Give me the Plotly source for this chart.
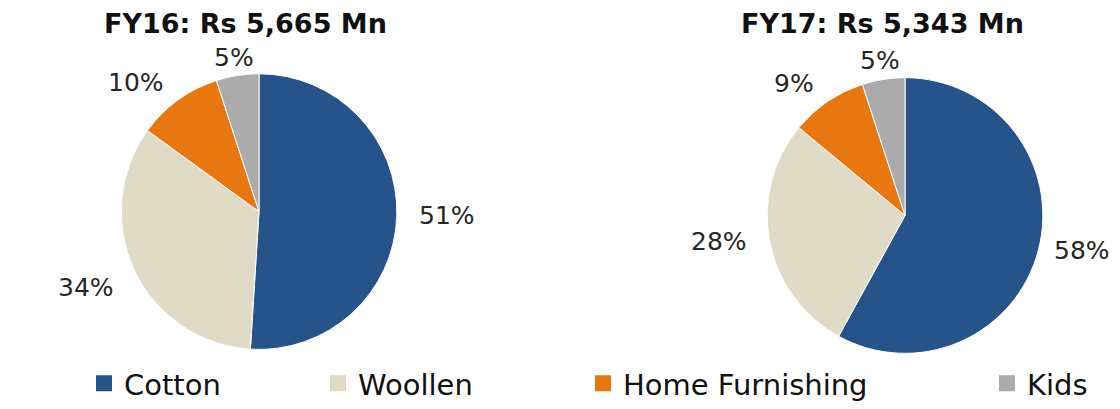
import math
import plotly.graph_objects as go

categories = ["Cotton", "Woollen", "Home Furnishing", "Kids"]
fy16_share = [51, 34, 10, 5]
fy17_share = [58, 28, 9, 5]
titles = ["FY16: Rs 5,665 Mn", "FY17: Rs 5,343 Mn"]
colors = ["#26548A", "#DFDBC6", "#E8770F", "#ABABAB"]

W, H = 1120, 409
FONT = "DejaVu Sans"
LABEL_SIZE = 25

# pie geometry (pixels): centre x, centre y, diameter
pies = [
    dict(values=fy16_share, name="FY16", cx=259, cy=218, d=284, title_x=245),
    dict(values=fy17_share, name="FY17", cx=905, cy=222, d=284, title_x=882),
]
legend_x = [84, 318, 583, 987]  # left edge of each legend entry (px)

fig = go.Figure()
for i, p in enumerate(pies):
    half = p["d"] / 2
    fig.add_trace(go.Pie(
        labels=categories,
        values=p["values"],
        name=p["name"],
        sort=False,
        direction="clockwise",
        rotation=0,
        marker=dict(colors=colors, line=dict(color="white", width=1)),
        textinfo="none",
        hoverinfo="label+percent",
        showlegend=False,
        domain=dict(
            x=[(p["cx"] - half - 10) / W, (p["cx"] + half + 10) / W],
            y=[1 - (p["cy"] + half) / H, 1 - (p["cy"] - half) / H],
        ),
    ))
    # percentage labels just outside each slice, at the slice mid-angle
    total = sum(p["values"])
    cum = 0
    for v in p["values"]:
        theta = 2 * math.pi * (cum + v / 2) / total
        cum += v
        s, c = math.sin(theta), math.cos(theta)
        r = half + 2
        x = p["cx"] + r * s * 1.1
        y = p["cy"] - r * c
        tw = 0.8 * LABEL_SIZE * len(f"{v}%")
        xa = "left" if s > 0.25 else ("right" if s < -0.25 else "center")
        if xa == "left":
            x = min(x, W - 8 - tw)
        elif xa == "right":
            x = max(x, 8 + tw)
        ya = "bottom" if c > 0.25 else ("top" if c < -0.25 else "middle")
        fig.add_annotation(
            text=f"{v}%", x=x / W, y=1 - y / H, xref="paper", yref="paper",
            showarrow=False, xanchor=xa, yanchor=ya,
            font=dict(family=FONT, size=LABEL_SIZE, color="#262626"),
        )
    fig.add_annotation(
        text=f"<b>{titles[i]}</b>", x=p["title_x"] / W, y=1 - 24 / H,
        xref="paper", yref="paper", showarrow=False,
        xanchor="center", yanchor="middle",
        font=dict(family=FONT, size=27, color="#111111"),
    )

# legend: one entry per category, each in its own legend box so it can sit
# where the reference places it
legend_layout = {}
for k, (cat, col) in enumerate(zip(categories, colors)):
    lname = "legend" if k == 0 else f"legend{k + 1}"
    fig.add_trace(go.Scatter(
        x=[None], y=[None], mode="markers", name=cat,
        marker=dict(symbol="square", size=16, color=col),
        legend=lname, showlegend=True, hoverinfo="skip",
    ))
    legend_layout[lname] = dict(
        orientation="h", x=legend_x[k] / W, y=14 / H,
        xanchor="left", yanchor="middle",
        font=dict(family=FONT, size=29, color="#111111"),
        bgcolor="rgba(0,0,0,0)", itemclick=False,
    )

fig.update_layout(
    width=W, height=H,
    margin=dict(l=0, r=0, t=0, b=0),
    paper_bgcolor="white", plot_bgcolor="white",
    xaxis=dict(visible=False), yaxis=dict(visible=False),
    **legend_layout,
)

fig.write_html(
    "out.html",
    config={"displayModeBar": False},
    post_script="document.body.style.margin='0';",
)
